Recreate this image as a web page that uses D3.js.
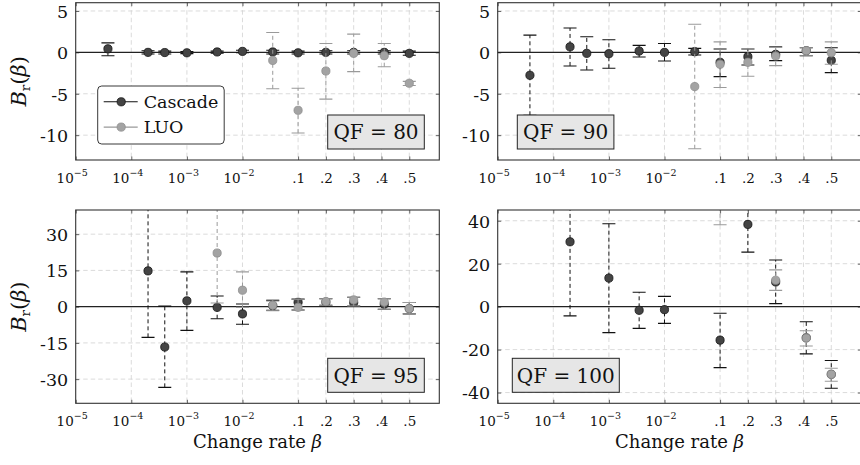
<!DOCTYPE html>
<html><head><meta charset="utf-8">
<script src="https://cdn.jsdelivr.net/npm/d3@7"></script>
<style>
body{margin:0;background:#fff;}
svg{display:block;}
svg text{font-family:"DejaVu Serif",serif;}
</style></head><body>
<svg id="c" width="860" height="465"></svg>
<script>
// ---------------- data ----------------
const betas = [3.8e-5, 2e-4, 4e-4, 1e-3, 3.5e-3, 1e-2, 0.035, 0.1, 0.2, 0.3, 0.41, 0.5];
const xTickValues = [1e-5, 1e-4, 1e-3, 1e-2, 0.1, 0.2, 0.3, 0.4, 0.5];
const xTickLabels = ["10^−5", "10^−4", "10^−3", "10^−2", ".1", ".2", ".3", ".4", ".5"];
const qualityFactors = [80, 90, 95, 100];
const yTicks80 = [-10, -5, 0, 5];
const yTicks90 = [-10, -5, 0, 5];
const yTicks95 = [-30, -15, 0, 15, 30];
const yTicks100 = [-40, -20, 0, 20, 40];
const yDomain80 = [-13, 6];
const yDomain90 = [-13, 6];
const yDomain95 = [-40, 40];
const yDomain100 = [-45, 45];
const seriesNames = ["Cascade", "LUO"];

const cascade80   = [0.43, 0.00, -0.02, -0.05, 0.05, 0.12, 0.05, -0.05, 0.00, 0.00, 0.00, -0.12];
const cascade80Lo = [-0.40, -0.20, -0.20, -0.15, -0.10, -0.05, -0.20, -0.20, -0.20, -0.20, -0.20, -0.35];
const cascade80Hi = [1.15, 0.20, 0.15, 0.10, 0.15, 0.25, 0.25, 0.15, 0.20, 0.20, 0.20, 0.15];
const luo80   = [null, null, null, null, null, null, -0.97, -7.00, -2.25, -0.12, -0.40, -3.73];
const luo80Lo = [null, null, null, null, null, null, -4.40, -9.73, -5.65, -2.33, -1.73, -4.00];
const luo80Hi = [null, null, null, null, null, null, 2.40, -4.33, 1.07, 2.20, 1.07, -3.50];

const cascade90   = [-2.77, 0.67, -0.12, -0.16, 0.16, 0.00, 0.08, -1.20, -0.52, -0.24, 0.20, -0.96];
const cascade90Lo = [-7.60, -1.64, -2.12, -1.92, -0.56, -1.04, -0.32, -2.93, -1.52, -1.00, -0.40, -2.45];
const cascade90Hi = [2.08, 2.95, 1.88, 1.52, 0.84, 1.08, 0.48, 0.40, 0.40, 0.68, 0.56, 0.56];
const luo90   = [null, null, null, null, null, null, -4.13, -1.44, -1.20, -0.44, 0.20, -0.04];
const luo90Lo = [null, null, null, null, null, null, -11.64, -4.25, -2.88, -1.60, -0.40, -1.44];
const luo90Hi = [null, null, null, null, null, null, 3.40, 1.27, 0.40, 0.60, 0.56, 1.27];

const cascade95   = [null, 14.8, -16.7, 2.4, -0.3, -3.0, 0.4, 1.8, 1.9, 1.7, 1.0, -0.8];
const cascade95Lo = [null, -12.7, -33.4, -9.8, -5.0, -7.3, -1.5, -1.4, 0.6, 0.3, -1.1, -3.0];
const cascade95Hi = [null, 42.3, 0.2, 14.4, 4.4, 1.1, 2.5, 3.1, 3.3, 3.9, 3.3, 1.7];
const luo95   = [null, null, null, null, 22.2, 6.8, 0.6, -0.3, 2.1, 2.8, 1.9, -0.8];
const luo95Lo = [null, null, null, null, 1.5, -0.3, -1.7, -1.4, 0.6, 0.3, -1.1, -3.0];
const luo95Hi = [null, null, null, null, 42.9, 14.4, 2.8, 3.1, 3.3, 3.9, 3.3, 1.7];

const cascade100   = [null, 30.2, null, 13.3, -1.7, -1.4, null, -15.6, 38.3, 11.5, -14.5, -31.5];
const cascade100Lo = [null, -4.3, null, -12.1, -10.1, -7.8, null, -28.4, 25.4, 1.4, -22.0, -38.0];
const cascade100Hi = [null, 64.7, null, 38.6, 6.7, 4.8, null, -3.1, 51.2, 21.7, -7.0, -25.1];
const luo100   = [null, null, null, null, null, null, null, 52.0, null, 12.3, -14.6, -31.5];
const luo100Lo = [null, null, null, null, null, null, null, 38.1, null, 7.6, -18.3, -34.7];
const luo100Hi = [null, null, null, null, null, null, null, 66.0, null, 17.1, -11.2, -28.7];

// ---------------- layout / style ----------------
const svg = d3.select("#c");
const defs = svg.append("defs");
const panelW = 363.6;
const layout = [
  {left: 75.7, top: 2.7, bottom: 160},
  {left: 497.7, top: 2.7, bottom: 160},
  {left: 75.7, top: 210, bottom: 403.3},
  {left: 497.7, top: 210, bottom: 403.3}
];
const panels = [
  {qf: qualityFactors[0], dom: yDomain80, ticks: yTicks80, cas: [cascade80, cascade80Lo, cascade80Hi], luo: [luo80, luo80Lo, luo80Hi], legend: true, yTitle: true, xTitle: false, qfSide: "right"},
  {qf: qualityFactors[1], dom: yDomain90, ticks: yTicks90, cas: [cascade90, cascade90Lo, cascade90Hi], luo: [luo90, luo90Lo, luo90Hi], legend: false, yTitle: false, xTitle: false, qfSide: "left"},
  {qf: qualityFactors[2], dom: yDomain95, ticks: yTicks95, cas: [cascade95, cascade95Lo, cascade95Hi], luo: [luo95, luo95Lo, luo95Hi], legend: false, yTitle: true, xTitle: true, qfSide: "right"},
  {qf: qualityFactors[3], dom: yDomain100, ticks: yTicks100, cas: [cascade100, cascade100Lo, cascade100Hi], luo: [luo100, luo100Lo, luo100Hi], legend: false, yTitle: false, xTitle: true, qfSide: "left"}
];
const styleCas = {fill: "#444444", stroke: "#151515", bar: "#111111", cap: "#111111"};
const styleLuo = {fill: "#a3a3a3", stroke: "#8e8e8e", bar: "#9a9a9a", cap: "#9a9a9a"};
const FONT = '"DejaVu Serif", serif';

// hybrid beta axis: log up to 0.1, linear beyond
const uLog = d3.scaleLog().domain([1e-5, 0.1]).range([-5, -1]);
const uLin = d3.scaleLinear().domain([0.1, 0.5]).range([-1, 1]);
const bu = b => (b <= 0.1 ? uLog(b) : uLin(b));

panels.forEach((p, pi) => {
  const L = layout[pi];
  const right = L.left + panelW;
  const x = d3.scaleLinear().domain([-5, 1.54]).range([L.left, right]);
  const y = d3.scaleLinear().domain(p.dom).range([L.bottom, L.top]);
  const X = b => x(bu(b));
  const g = svg.append("g");

  defs.append("clipPath").attr("id", "clip" + pi).append("rect")
    .attr("x", L.left).attr("y", L.top).attr("width", panelW).attr("height", L.bottom - L.top);

  // grid
  const grid = g.append("g").attr("stroke", "#d2d2d2").attr("stroke-width", 0.8).attr("stroke-dasharray", "4.5,3");
  grid.selectAll("line.v").data(xTickValues.slice(1)).join("line")
    .attr("x1", d => X(d)).attr("x2", d => X(d)).attr("y1", L.top).attr("y2", L.bottom);
  grid.selectAll("line.h").data(p.ticks.filter(t => t !== 0)).join("line")
    .attr("x1", L.left).attr("x2", right).attr("y1", d => y(d)).attr("y2", d => y(d));

  // tick marks (inward) + labels via d3 axes
  const xt = xTickValues.map(bu);
  const axB = g.append("g").attr("transform", `translate(0,${L.bottom})`)
    .call(d3.axisBottom(x).tickValues(xt).tickSizeInner(-3.5).tickSizeOuter(0).tickFormat((d, i) => xTickLabels[i]));
  g.append("g").attr("transform", `translate(0,${L.top})`)
    .call(d3.axisTop(x).tickValues(xt).tickSizeInner(-3.5).tickSizeOuter(0).tickFormat(""));
  const axL = g.append("g").attr("transform", `translate(${L.left},0)`)
    .call(d3.axisLeft(y).tickValues(p.ticks).tickSizeInner(-3.5).tickSizeOuter(0).tickFormat(d => String(d)));
  g.append("g").attr("transform", `translate(${right},0)`)
    .call(d3.axisRight(y).tickValues(p.ticks).tickSizeInner(-3.5).tickSizeOuter(0).tickFormat(""));
  g.selectAll(".domain").remove();
  g.selectAll(".tick line").attr("stroke", "#555").attr("stroke-width", 0.9);
  g.selectAll("g").attr("font-family", FONT);

  axB.selectAll("text").each(function(d, i) {
    const t = d3.select(this);
    const lbl = xTickLabels[i];
    t.attr("y", 22.5).attr("dy", 0).attr("font-size", 13.5).attr("fill", "#111");
    if (lbl.includes("^")) {
      const [base, ex] = lbl.split("^");
      t.text(base).attr("x", -4);
      t.append("tspan").attr("font-size", 9.5).attr("dy", -6.5).text(ex);
    }
  });
  axL.selectAll("text").attr("x", -7.5).attr("dy", "0.36em").attr("font-size", 17.5).attr("fill", "#111");

  // zero line
  g.append("line").attr("x1", L.left).attr("x2", right).attr("y1", y(0)).attr("y2", y(0))
    .attr("stroke", "#222").attr("stroke-width", 1.1);

  // series
  const plot = g.append("g").attr("clip-path", `url(#clip${pi})`);
  [[p.cas, styleCas], [p.luo, styleLuo]].forEach(([arr, st]) => {
    const [vals, lo, hi] = arr;
    const idx = betas.map((b, i) => i).filter(i => vals[i] !== null);
    const eg = plot.append("g");
    eg.selectAll("line.bar").data(idx).join("line")
      .attr("x1", i => X(betas[i])).attr("x2", i => X(betas[i]))
      .attr("y1", i => y(lo[i])).attr("y2", i => y(hi[i]))
      .attr("stroke", st.bar).attr("stroke-width", 1).attr("stroke-dasharray", "4,3");
    [lo, hi].forEach(ends => {
      eg.selectAll(null).data(idx).join("line")
        .attr("x1", i => X(betas[i]) - 6.5).attr("x2", i => X(betas[i]) + 6.5)
        .attr("y1", i => y(ends[i])).attr("y2", i => y(ends[i]))
        .attr("stroke", st.cap).attr("stroke-width", 1.1);
    });
    eg.selectAll("circle").data(idx).join("circle")
      .attr("cx", i => X(betas[i])).attr("cy", i => y(vals[i])).attr("r", 4.1)
      .attr("fill", st.fill).attr("stroke", st.stroke).attr("stroke-width", 0.8);
  });

  // frame
  g.append("rect").attr("x", L.left).attr("y", L.top).attr("width", panelW).attr("height", L.bottom - L.top)
    .attr("fill", "none").attr("stroke", "#333").attr("stroke-width", 1.1);

  // QF label
  const qg = g.append("g");
  const bw = p.qf === 100 ? 107 : 96.6, bh = 34;
  const bx = p.qfSide === "right" ? right - 15 - bw : L.left + (p.qf === 100 ? 14.6 : 19.6);
  const by = L.bottom - 11 - bh;
  qg.append("rect").attr("x", bx).attr("y", by).attr("width", bw).attr("height", bh)
    .attr("fill", "#e6e6e6").attr("stroke", "#222").attr("stroke-width", 1);
  qg.append("text").attr("font-size", 20).attr("fill", "#111").attr("text-anchor", "middle")
    .attr("x", bx + bw / 2).attr("y", by + bh / 2 + 7.3)
    .text(`QF = ${p.qf}`);

  // legend
  if (p.legend) {
    const lg = g.append("g").attr("transform", `translate(${L.left + 22},${L.top + 83.3})`);
    lg.append("rect").attr("x", 0).attr("y", 0).attr("width", 126.5).attr("height", 58).attr("rx", 4)
      .attr("fill", "#fff").attr("stroke", "#222").attr("stroke-width", 0.9);
    [styleCas, styleLuo].forEach((st, k) => {
      const cy = 15.8 + k * 25.3;
      lg.append("line").attr("x1", 6).attr("x2", 40).attr("y1", cy).attr("y2", cy)
        .attr("stroke", k === 0 ? "#111" : "#999").attr("stroke-width", 1.1);
      lg.append("circle").attr("cx", 23.5).attr("cy", cy).attr("r", 4.1)
        .attr("fill", st.fill).attr("stroke", st.stroke).attr("stroke-width", 0.8);
      lg.append("text").attr("x", 46).attr("y", cy + 6.2).attr("font-size", 17.5).attr("fill", "#111")
        .text(seriesNames[k]);
    });
  }

  // axis titles
  if (p.yTitle) {
    const t = g.append("text").attr("transform", `translate(26,${(L.top + L.bottom) / 2}) rotate(-90)`)
      .attr("text-anchor", "middle").attr("font-size", 21).attr("fill", "#111");
    t.append("tspan").attr("font-style", "italic").text("B");
    t.append("tspan").attr("font-size", 13.5).attr("dy", 4).text("r");
    t.append("tspan").attr("dy", -4).text("(");
    t.append("tspan").attr("font-style", "italic").text("β");
    t.append("tspan").text(")");
  }
  if (p.xTitle) {
    const t = g.append("text").attr("x", (L.left + right) / 2).attr("y", 448.3)
      .attr("text-anchor", "middle").attr("font-size", 18).attr("fill", "#111");
    t.append("tspan").text("Change rate ");
    t.append("tspan").attr("font-style", "italic").text("β");
  }
});
</script>
</body></html>
